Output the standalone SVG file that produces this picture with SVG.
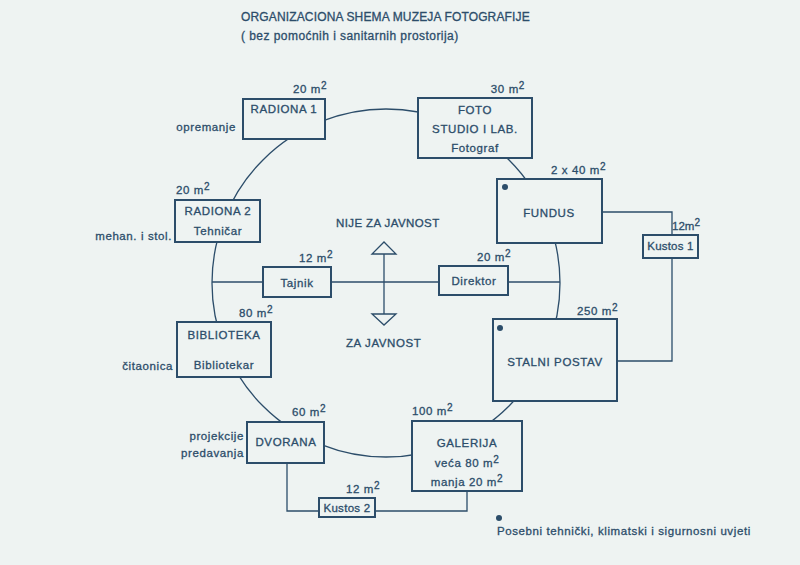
<svg xmlns="http://www.w3.org/2000/svg" width="800" height="565" viewBox="0 0 800 565">
<style>
text{font-family:"Liberation Sans",Arial,sans-serif;font-size:11.5px;fill:#2c4d6a;stroke:#2c4d6a;stroke-width:0.3px;letter-spacing:0.6px}
.c{text-anchor:middle}
.r{text-anchor:end}
.box{fill:#eef3f2;stroke:#2c4d6a;stroke-width:2}
.ln{fill:none;stroke:#2c4d6a;stroke-width:1.3}
.dot{fill:#2c4d6a}
.sup{font-size:10px}
</style>
<rect width="800" height="565" fill="#eef3f2"/>
<text x="241" y="21" style="font-size:12px;letter-spacing:0.15px">ORGANIZACIONA SHEMA MUZEJA FOTOGRAFIJE</text>
<text x="241" y="40" style="font-size:12px;letter-spacing:0.45px">( bez pomoćnih i sanitarnih prostorija)</text>
<g id="connectors">
<circle class="ln" cx="386" cy="283" r="174"/>
<line class="ln" x1="212" y1="282" x2="560" y2="282"/>
<line class="ln" x1="384" y1="254" x2="384" y2="314"/>
<polygon class="ln" points="372,254 396,254 384,242"/>
<polygon class="ln" points="372,314 396,314 384,325"/>
<polyline class="ln" points="602,212 672,212 672,235"/>
<polyline class="ln" points="672,258 672,361 617,361"/>
<polyline class="ln" points="287,463 287,511 319,511"/>
<polyline class="ln" points="375,511 467,511 467,491"/>
</g>
<g id="radiona1">
<rect class="box" x="243" y="99" width="82" height="40"/>
<text class="c" x="284" y="113">RADIONA 1</text>
<text x="293" y="93">20 m<tspan class="sup" dy="-4">2</tspan></text>
<text class="r" x="236" y="131">opremanje</text>
</g>
<g id="foto">
<rect class="box" x="418" y="98" width="114" height="60"/>
<text class="c" x="475" y="114">FOTO</text>
<text class="c" x="475" y="133">STUDIO I LAB.</text>
<text class="c" x="475" y="152">Fotograf</text>
<text class="r" x="525" y="93">30 m<tspan class="sup" dy="-4">2</tspan></text>
</g>
<g id="radiona2">
<rect class="box" x="175" y="200" width="85" height="42"/>
<text class="c" x="218" y="215">RADIONA 2</text>
<text class="c" x="218" y="235">Tehničar</text>
<text x="176" y="194">20 m<tspan class="sup" dy="-4">2</tspan></text>
<text class="r" x="172" y="240">mehan. i stol.</text>
</g>
<g id="fundus">
<rect class="box" x="497" y="179" width="105" height="64"/>
<circle class="dot" cx="505" cy="187" r="3"/>
<text class="c" x="549" y="217">FUNDUS</text>
<text x="551" y="174">2 x 40 m<tspan class="sup" dy="-4">2</tspan></text>
</g>
<g id="kustos1">
<rect class="box" x="643" y="235" width="55" height="23"/>
<text class="c" x="670.5" y="250" style="letter-spacing:0.2px">Kustos 1</text>
<text x="672" y="230" style="letter-spacing:0">12m<tspan class="sup" dy="-4">2</tspan></text>
</g>
<g id="tajnik">
<rect class="box" x="263" y="267" width="68" height="30"/>
<text class="c" x="297" y="287">Tajnik</text>
<text x="299" y="262">12 m<tspan class="sup" dy="-4">2</tspan></text>
</g>
<g id="direktor">
<rect class="box" x="439" y="266" width="69" height="29"/>
<text class="c" x="474" y="285">Direktor</text>
<text x="477" y="261">20 m<tspan class="sup" dy="-4">2</tspan></text>
</g>
<g id="javnost">
<text x="336" y="227" style="letter-spacing:0.4px">NIJE ZA JAVNOST</text>
<text x="346" y="347">ZA JAVNOST</text>
</g>
<g id="biblioteka">
<rect class="box" x="177" y="322" width="94" height="55"/>
<text class="c" x="224" y="339">BIBLIOTEKA</text>
<text class="c" x="224" y="369">Bibliotekar</text>
<text x="239" y="317">80 m<tspan class="sup" dy="-4">2</tspan></text>
<text class="r" x="173" y="370">čitaonica</text>
</g>
<g id="stalni">
<rect class="box" x="493" y="319" width="124" height="82"/>
<circle class="dot" cx="500" cy="328" r="3"/>
<text class="c" x="555" y="366">STALNI POSTAV</text>
<text x="577" y="315">250 m<tspan class="sup" dy="-4">2</tspan></text>
</g>
<g id="dvorana">
<rect class="box" x="247" y="422" width="77" height="41"/>
<text class="c" x="286" y="446">DVORANA</text>
<text x="292" y="416">60 m<tspan class="sup" dy="-4">2</tspan></text>
<text class="r" x="244" y="440">projekcije</text>
<text class="r" x="244" y="457">predavanja</text>
</g>
<g id="galerija">
<rect class="box" x="412" y="421" width="110" height="70"/>
<text class="c" x="467" y="447">GALERIJA</text>
<text class="c" x="467" y="467">veća  80 m<tspan class="sup" dy="-4">2</tspan></text>
<text class="c" x="467" y="486">manja  20 m<tspan class="sup" dy="-4">2</tspan></text>
<text x="412" y="415">100 m<tspan class="sup" dy="-4">2</tspan></text>
</g>
<g id="kustos2">
<rect class="box" x="319" y="498" width="56" height="19"/>
<text class="c" x="347" y="512" style="letter-spacing:0.3px">Kustos 2</text>
<text x="346" y="493">12 m<tspan class="sup" dy="-4">2</tspan></text>
</g>
<g id="legend">
<circle class="dot" cx="499" cy="518" r="3"/>
<text x="497" y="535">Posebni tehnički, klimatski i sigurnosni uvjeti</text>
</g>
</svg>
